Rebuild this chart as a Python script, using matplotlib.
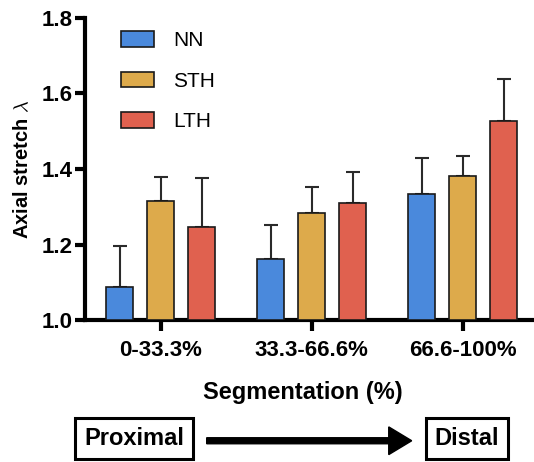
import matplotlib.pyplot as plt
from matplotlib.patches import FancyArrow
import numpy as np

plt.rcParams['font.family'] = ['Liberation Sans', 'DejaVu Sans']
plt.rcParams['mathtext.fontset'] = 'cm'

segments = ['0-33.3%', '33.3-66.6%', '66.6-100%']
groups = ['NN', 'STH', 'LTH']
means = {
    'NN': [1.088, 1.161, 1.333],
    'STH': [1.316, 1.284, 1.382],
    'LTH': [1.245, 1.310, 1.526],
}
errs = {
    'NN': [0.107, 0.091, 0.095],
    'STH': [0.063, 0.069, 0.052],
    'LTH': [0.131, 0.082, 0.112],
}
colors = {'NN': '#4A89DC', 'STH': '#DDAA4B', 'LTH': '#E0614F'}

fig = plt.figure(figsize=(5.34, 4.62), dpi=100)
ax = fig.add_axes([0.159, 0.307, 0.841, 0.655])

x = np.arange(len(segments))
step = 0.2715
width = 0.179
for i, g in enumerate(groups):
    pos = x + (i - 1) * step
    ax.bar(pos, np.array(means[g]) - 1.0, width, bottom=1.0, color=colors[g],
           edgecolor='#1a1a1a', linewidth=1.2, label=g, zorder=3)
    ax.errorbar(pos, means[g], yerr=[np.zeros(3), errs[g]], fmt='none',
                ecolor='#2a2a2a', elinewidth=1.5, capsize=4.8, capthick=1.5, zorder=2)

ax.set_ylim(1.0, 1.8)
ax.set_xlim(-0.501, 2.472)
ax.set_yticks([1.0, 1.2, 1.4, 1.6, 1.8])
ax.set_yticklabels(['1.0', '1.2', '1.4', '1.6', '1.8'], fontsize=16, fontweight='bold')
ax.set_xticks(x)
ax.set_xticklabels(segments, fontsize=16, fontweight='bold')
for s in ['top', 'right']:
    ax.spines[s].set_visible(False)
for s in ['left', 'bottom']:
    ax.spines[s].set_linewidth(3)
ax.tick_params(axis='y', width=3, length=7, pad=2)
ax.tick_params(axis='x', width=3, length=8, pad=6)
ax.set_ylabel('Axial stretch $\\lambda$', fontsize=14.5, fontweight='bold')
ax.yaxis.set_label_coords(-0.117, 0.5)
ax.set_xlabel('Segmentation (%)', fontsize=17, fontweight='bold')
ax.xaxis.set_label_coords(0.485, -0.2)

ax.legend(loc='upper left', bbox_to_anchor=(0.08, 0.955), frameon=False,
          fontsize=15, handlelength=1.6, handleheight=0.78, borderpad=0,
          borderaxespad=0, labelspacing=1.02, handletextpad=0.92)

box = dict(boxstyle='square,pad=0.38', fc='white', ec='black', lw=2.2)
fig.text(0.251, 0.05, 'Proximal', fontsize=17, fontweight='bold',
         ha='center', va='center', bbox=box)
fig.text(0.8745, 0.05, 'Distal', fontsize=17, fontweight='bold',
         ha='center', va='center', bbox=box)
fig.patches.append(FancyArrow(
    206.7 / 534, 0.046, (411.7 - 206.7) / 534, 0.0, width=0.013, head_width=0.06,
    head_length=0.043, length_includes_head=True, color='black',
    transform=fig.transFigure))

fig.savefig('out.png', dpi=100)
